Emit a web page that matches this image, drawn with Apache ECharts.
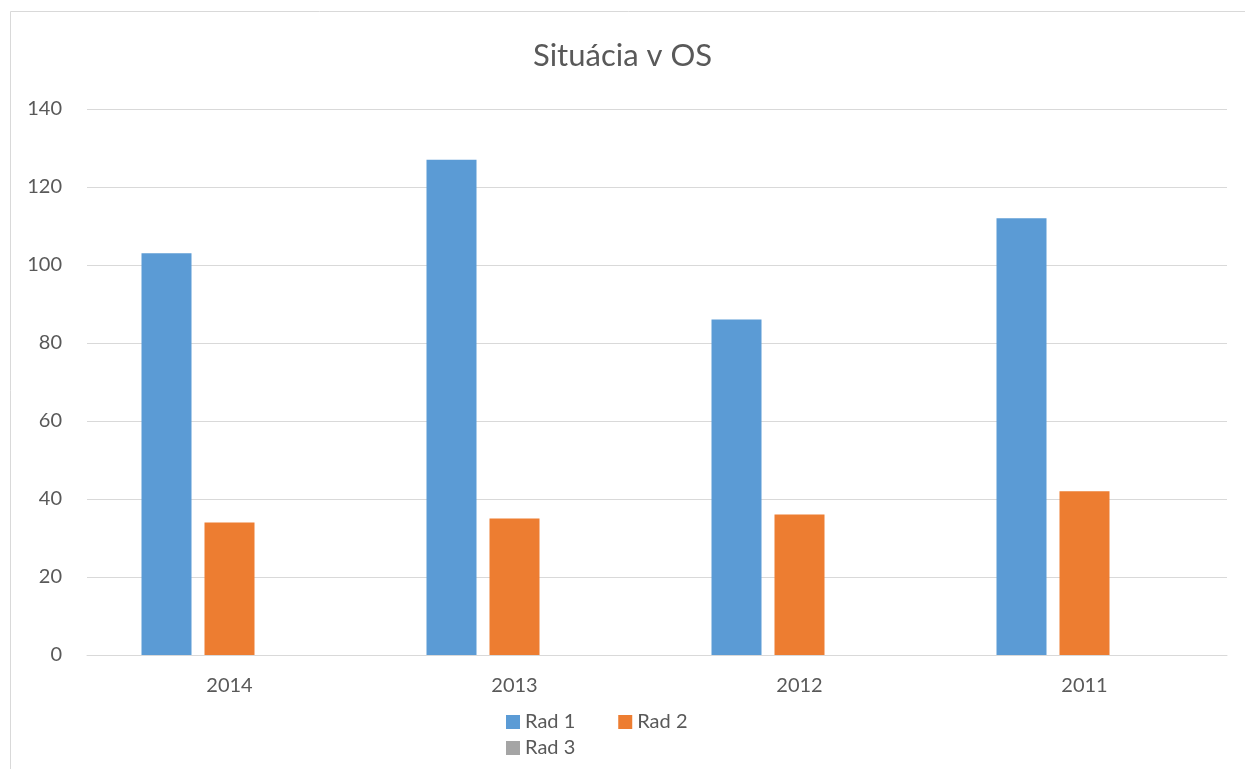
<!DOCTYPE html>
<html>
<head>
<meta charset="utf-8">
<script src="https://cdn.jsdelivr.net/npm/echarts@6/dist/echarts.min.js"></script>
<style>
  html, body { margin: 0; padding: 0; background: #fff; }
  #chart { width: 1245px; height: 769px; }
</style>
</head>
<body>
<div id="chart"></div>
<script>
// data
var years = ['2014', '2013', '2012', '2011'];
var rad1 = [103, 127, 86, 112];
var rad2 = [34, 35, 36, 42];
var rad3 = [0, 0, 0, 0];
var yTicks = { min: 0, max: 140, interval: 20 };

var font = 'Lato, "Open Sans", sans-serif';
var chart = echarts.init(document.getElementById('chart'));

var option = {
    backgroundColor: '#ffffff',
    animation: false,
    title: {
        text: 'Situácia v OS',
        left: 'center',
        top: 35,
        textStyle: { color: '#595959', fontSize: 31, fontWeight: 'normal', fontFamily: font }
    },
    // legenda v dvoch riadkoch
    legend: [
        {
            data: ['Rad 1', 'Rad 2'],
            left: 501,
            top: 707,
            itemWidth: 14,
            itemHeight: 14,
            itemGap: 43,
            icon: 'rect',
            textStyle: { color: '#595959', fontSize: 20, fontFamily: font }
        },
        {
            data: ['Rad 3'],
            left: 501,
            top: 733,
            itemWidth: 14,
            itemHeight: 14,
            icon: 'rect',
            textStyle: { color: '#595959', fontSize: 20, fontFamily: font }
        }
    ],
    graphic: [
        {
            type: 'rect',
            shape: { x: 10.5, y: 11.5, width: 1400, height: 900 },
            style: { fill: 'none', stroke: '#d9d9d9', lineWidth: 1 },
            silent: true
        }
    ],
    grid: { left: 87, right: 18, top: 109, bottom: 114 },
    xAxis: {
        type: 'category',
        data: years,
        axisLine: { lineStyle: { color: '#d9d9d9' } },
        axisTick: { show: false },
        axisLabel: { color: '#595959', fontSize: 20, margin: 21, fontFamily: font }
    },
    yAxis: {
        type: 'value',
        min: yTicks.min,
        max: yTicks.max,
        interval: yTicks.interval,
        axisLine: { show: false },
        axisTick: { show: false },
        splitLine: { lineStyle: { color: '#d9d9d9', width: 1 } },
        axisLabel: { color: '#595959', fontSize: 20, margin: 25, fontFamily: font }
    },
    series: [
        { name: 'Rad 1', type: 'bar', data: rad1, barWidth: 50, barGap: '26%', itemStyle: { color: '#5b9bd5' } },
        { name: 'Rad 2', type: 'bar', data: rad2, barWidth: 50, barGap: '26%', itemStyle: { color: '#ed7d31' } },
        { name: 'Rad 3', type: 'bar', data: rad3, barWidth: 50, barGap: '26%', itemStyle: { color: '#a5a5a5' } }
    ]
};
chart.setOption(option);
</script>
</body>
</html>
